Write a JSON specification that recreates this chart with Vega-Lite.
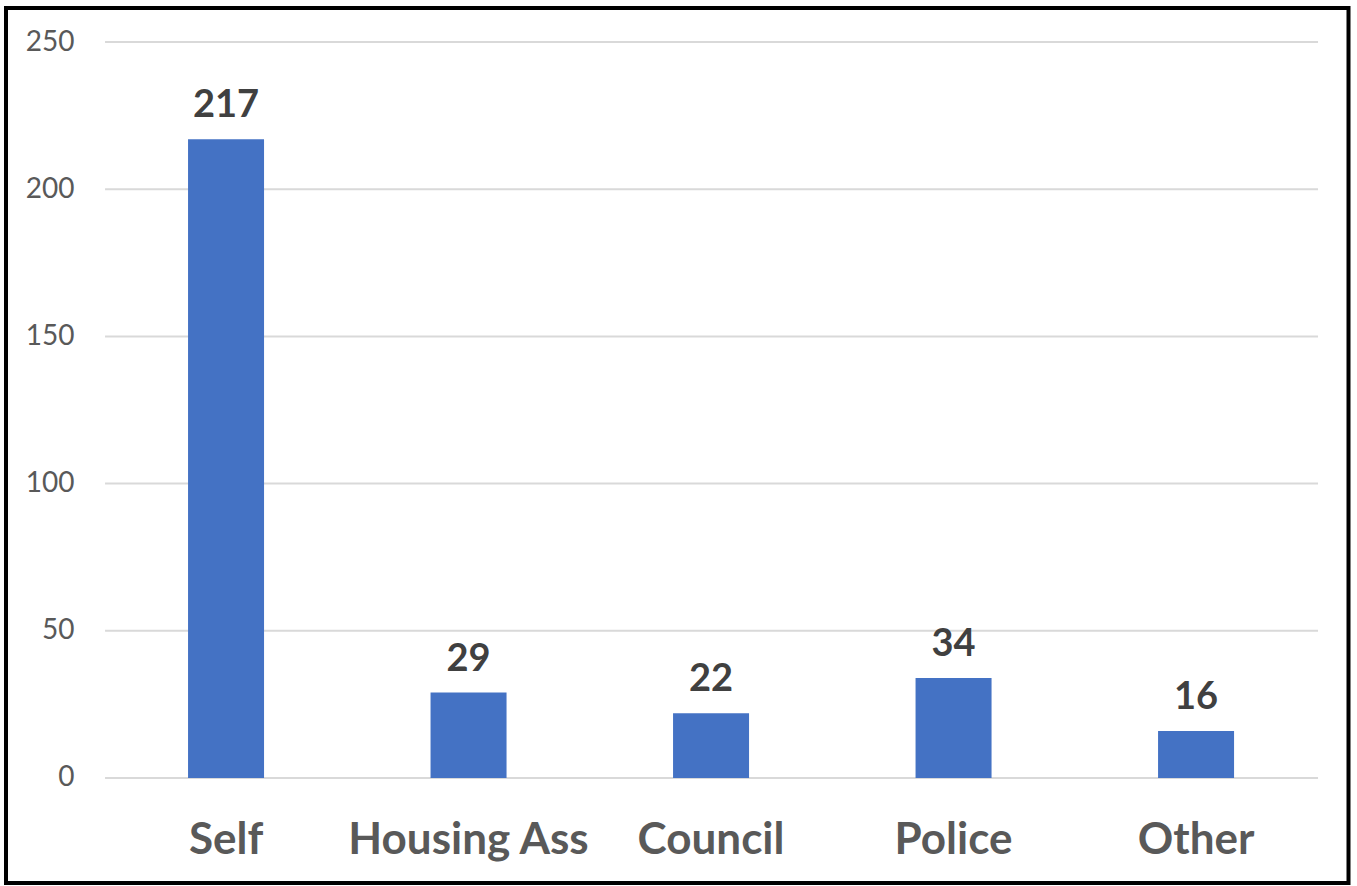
{
  "$schema": "https://vega.github.io/schema/vega-lite/v6.json",
  "width": 1342.5,
  "height": 875,
  "autosize": {"type": "none"},
  "padding": {"left": 6, "top": 8, "right": 8.5, "bottom": 3},
  "background": "white",
  "config": {
    "view": {"stroke": "black", "strokeWidth": 4, "fill": "white"},
    "font": "Lato"
  },
  "datasets": {
    "bars": [
      {"source": "Self", "count": 217},
      {"source": "Housing Ass", "count": 29},
      {"source": "Council", "count": 22},
      {"source": "Police", "count": 34},
      {"source": "Other", "count": 16}
    ],
    "grid": [
      {"v": 0}, {"v": 50}, {"v": 100}, {"v": 150}, {"v": 200}, {"v": 250}
    ]
  },
  "layer": [
    {
      "data": {"name": "grid"},
      "mark": {"type": "rule", "color": "#d9d9d9", "strokeWidth": 2},
      "encoding": {
        "y": {"field": "v", "type": "quantitative"},
        "x": {"datum": "Self", "type": "nominal", "bandPosition": -1.092},
        "x2": {"datum": "Other", "bandPosition": 2.105}
      }
    },
    {
      "data": {"name": "bars"},
      "mark": {"type": "bar", "color": "#4472C4"},
      "encoding": {
        "x": {
          "field": "source",
          "type": "nominal",
          "sort": ["Self", "Housing Ass", "Council", "Police", "Other"],
          "scale": {
            "type": "band",
            "domain": ["Self", "Housing Ass", "Council", "Police", "Other"],
            "paddingInner": 0.6866,
            "paddingOuter": 0.6113,
            "align": 0.614
          },
          "axis": {
            "title": null,
            "orient": "bottom",
            "offset": -105,
            "bandPosition": 0.5,
            "domain": false,
            "ticks": false,
            "tickSize": 0,
            "labelPadding": 62,
            "labelLimit": 0,
            "labelAlign": "center",
            "labelFontSize": 44,
            "labelFontWeight": "bold",
            "labelColor": "#595959",
            "labelFont": "Lato",
            "labelAngle": 0
          }
        },
        "y": {
          "field": "count",
          "type": "quantitative",
          "scale": {"domain": [-35.67, 261.55], "nice": false, "zero": false},
          "axis": {
            "title": null,
            "orient": "left",
            "offset": -99,
            "values": [0, 50, 100, 150, 200, 250],
            "domain": false,
            "ticks": false,
            "tickSize": 0,
            "grid": false,
            "labelPadding": 31,
            "labelFontSize": 28,
            "labelColor": "#595959",
            "labelFont": "Lato"
          }
        },
        "y2": {"datum": 0}
      }
    },
    {
      "data": {"name": "bars"},
      "mark": {"type": "text", "baseline": "alphabetic", "dy": -22, "fontSize": 38, "fontWeight": "bold", "color": "#404040", "font": "Lato"},
      "encoding": {
        "x": {"field": "source", "type": "nominal", "sort": ["Self", "Housing Ass", "Council", "Police", "Other"]},
        "y": {"field": "count", "type": "quantitative"},
        "text": {"field": "count", "type": "quantitative"}
      }
    }
  ]
}
